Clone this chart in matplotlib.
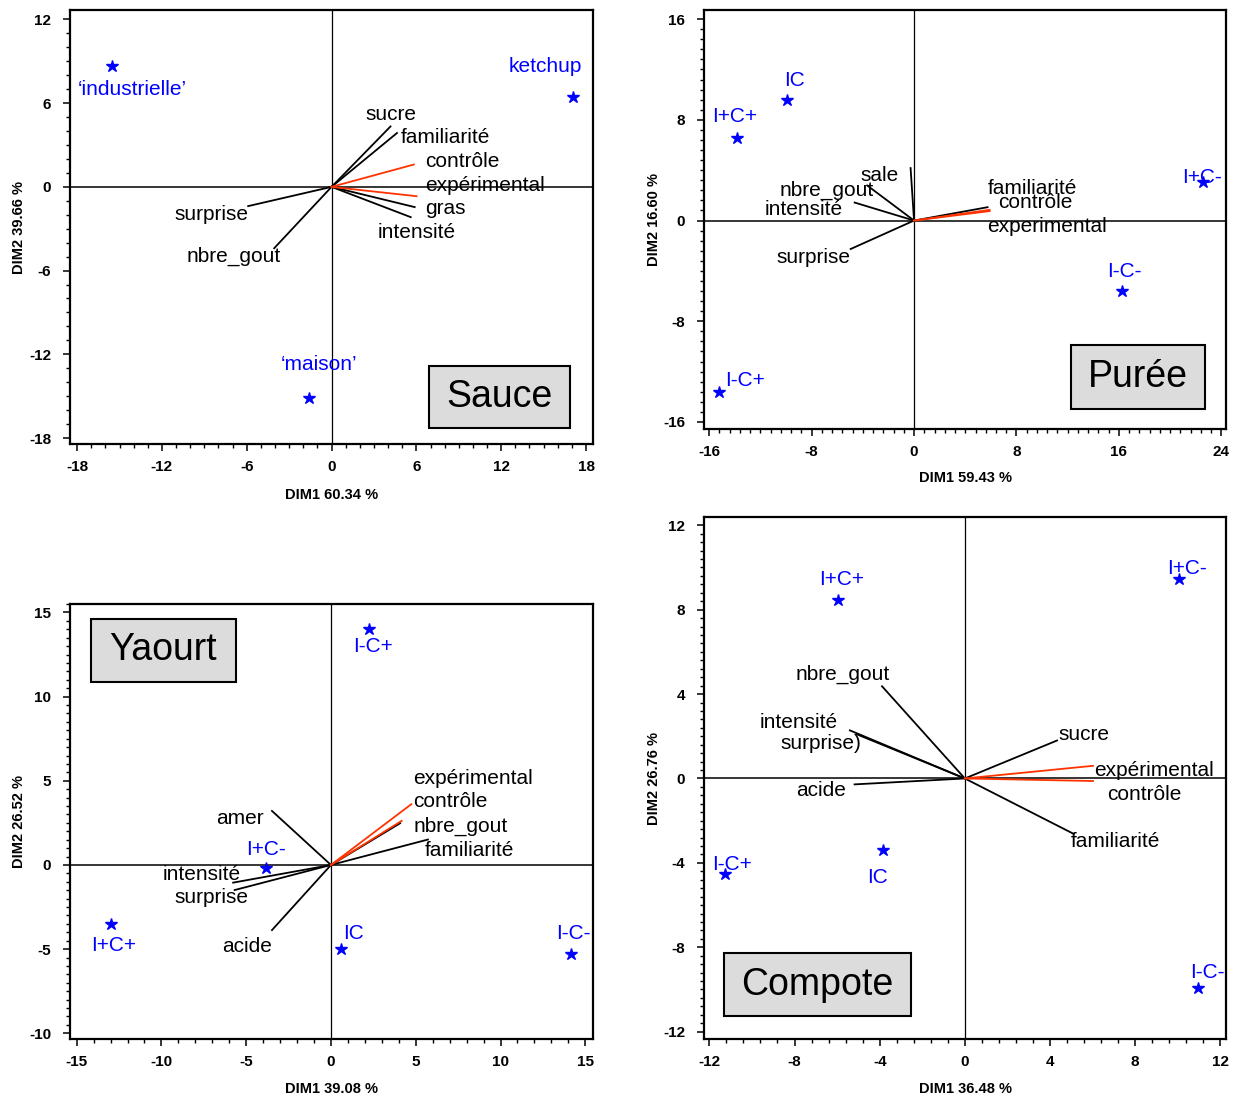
import numpy as np
import matplotlib.pyplot as plt
from matplotlib.patches import Rectangle
from matplotlib.ticker import MultipleLocator

plt.rcParams['font.family'] = ['Liberation Sans', 'DejaVu Sans']
plt.rcParams['axes.unicode_minus'] = False

BLUE = '#0000ff'
RED = '#ff3300'
RED_VARS = ('contrôle', 'expérimental', 'experimental')

# ---------------- Sauce
sauce_prod = ['‘industrielle’', 'ketchup', '‘maison’']
sauce_px = [-15.56, 17.05, -1.63]
sauce_py = [8.67, 6.43, -15.12]
sauce_vars = ['sucre', 'familiarité', 'contrôle', 'expérimental', 'gras',
              'intensité', 'surprise', 'nbre_gout']
sauce_vx = [4.17, 4.63, 5.82, 6.01, 5.88, 5.60, -5.90, -4.06]
sauce_vy = [4.33, 3.86, 1.60, -0.67, -1.45, -2.17, -1.38, -4.40]

# ---------------- Puree
puree_prod = ['IC', 'I+C+', 'I+C-', 'I-C-', 'I-C+']
puree_px = [-9.89, -13.80, 22.53, 16.27, -15.24]
puree_py = [9.61, 6.56, 3.03, -5.60, -13.62]
puree_vars = ['sale', 'nbre_gout', 'intensité', 'surprise', 'familiarité',
              'contrôle', 'experimental']
puree_vx = [-0.27, -3.66, -4.64, -4.95, 5.74, 5.90, 5.90]
puree_vy = [4.17, 2.79, 1.43, -2.26, 1.06, 0.85, 0.75]

# ---------------- Yaourt
yaourt_prod = ['I-C+', 'I+C-', 'I+C+', 'IC', 'I-C-']
yaourt_px = [2.24, -3.85, -12.98, 0.57, 14.15]
yaourt_py = [14.02, -0.16, -3.49, -4.98, -5.27]
yaourt_vars = ['amer', 'intensité', 'surprise', 'acide', 'expérimental',
               'contrôle', 'nbre_gout', 'familiarité']
yaourt_vx = [-3.48, -5.77, -5.68, -3.48, 4.74, 4.17, 4.08, 5.72]
yaourt_vy = [3.21, -1.05, -1.49, -3.87, 3.61, 2.62, 2.48, 1.51]

# ---------------- Compote
compote_prod = ['I+C+', 'I+C-', 'I-C+', 'IC', 'I-C-']
compote_px = [-5.95, 10.06, -11.27, -3.84, 10.94]
compote_py = [8.47, 9.44, -4.52, -3.41, -9.92]
compote_vars = ['nbre_gout', 'intensité', 'surprise)', 'acide', 'sucre',
                'expérimental', 'contrôle', 'familiarité']
compote_vx = [-3.89, -5.40, -5.09, -5.18, 4.33, 6.02, 6.02, 5.10]
compote_vy = [4.37, 2.28, 2.10, -0.28, 1.80, 0.60, -0.12, -2.62]

# label placement: (x, y, ha)
sauce_plab = [(-14.1, 6.95, 'center'), (15.1, 8.6, 'center'), (-0.9, -12.7, 'center')]
sauce_vlab = [(4.2, 5.2, 'center'), (4.9, 3.55, 'left'), (6.65, 1.83, 'left'),
              (6.65, 0.1, 'left'), (6.65, -1.55, 'left'), (3.25, -3.24, 'left'),
              (-5.85, -1.98, 'right'), (-3.6, -5.0, 'right')]
puree_plab = [(-9.37, 11.13, 'center'), (-14.05, 8.28, 'center'), (22.5, 3.45, 'center'),
              (16.4, -4.06, 'center'), (-14.78, -12.69, 'left')]
puree_vlab = [(-2.72, 3.56, 'center'), (-6.84, 2.36, 'center'), (-8.61, 0.85, 'center'),
              (-7.85, -2.92, 'center'), (5.74, 2.58, 'left'), (6.6, 1.43, 'left'),
              (5.74, -0.5, 'left')]
yaourt_plab = [(2.47, 12.97, 'center'), (-3.82, 0.93, 'center'), (-12.82, -4.76, 'center'),
               (0.69, -4.08, 'left'), (14.3, -4.08, 'center')]
yaourt_vlab = [(-5.38, 2.76, 'center'), (-7.63, -0.56, 'center'), (-7.03, -1.94, 'center'),
               (-4.97, -4.82, 'center'), (4.85, 5.15, 'left'), (4.85, 3.75, 'left'),
               (4.85, 2.32, 'left'), (5.56, 0.87, 'left')]
compote_plab = [(-5.77, 9.44, 'center'), (10.43, 9.97, 'center'), (-10.93, -4.08, 'center'),
                (-4.08, -4.67, 'center'), (11.4, -9.21, 'center')]
compote_vlab = [(-5.73, 4.93, 'center'), (-7.79, 2.67, 'center'), (-6.74, 1.66, 'center'),
                (-6.74, -0.55, 'center'), (4.41, 2.1, 'left'), (6.08, 0.39, 'left'),
                (6.67, -0.76, 'left'), (4.98, -2.97, 'left')]


def draw_panel(ax, title, box, prod, px, py, plab, vars_, vx, vy, vlab,
               xlim, ylim, xmaj, xmin, ymaj, ymin, xlabel, ylabel, lx, ly):
    ax.axhline(0, color='black', lw=1.1, zorder=1)
    ax.axvline(0, color='black', lw=0.9, zorder=1)

    for name, x, y, (tx, ty, ha) in zip(vars_, vx, vy, vlab):
        col = RED if name in RED_VARS else 'black'
        ax.plot([0, x], [0, y], color=col, lw=1.3, zorder=3 if col == RED else 2)
        ax.text(tx, ty, name, ha=ha, va='center', fontsize=15, zorder=4)

    ax.plot(px, py, ls='none', marker='*', ms=9, color=BLUE, zorder=5)
    for name, (tx, ty, ha) in zip(prod, plab):
        ax.text(tx, ty, name, ha=ha, va='center', fontsize=15, color=BLUE, zorder=5)

    x0, x1, y0, y1 = box
    ax.add_patch(Rectangle((x0, y1), x1 - x0, y0 - y1, facecolor='#dcdcdc',
                           edgecolor='black', lw=1.5, zorder=6))
    ax.text((x0 + x1) / 2, (y0 + y1) / 2, title, ha='center', va='center',
            fontsize=27, zorder=7)

    ax.set_xlim(*xlim)
    ax.set_ylim(*ylim)
    ax.xaxis.set_major_locator(MultipleLocator(xmaj))
    ax.xaxis.set_minor_locator(MultipleLocator(xmin))
    ax.yaxis.set_major_locator(MultipleLocator(ymaj))
    ax.yaxis.set_minor_locator(MultipleLocator(ymin))
    ax.tick_params(which='major', direction='out', length=5, width=1.1,
                   labelsize=11)
    ax.tick_params(axis='x', which='major', pad=6.5)
    ax.tick_params(axis='y', which='major', pad=8.5)
    ax.tick_params(which='minor', direction='out', length=3, width=1)
    for lab in ax.get_xticklabels() + ax.get_yticklabels():
        lab.set_fontweight('bold')
    for sp in ax.spines.values():
        sp.set_linewidth(1.6)

    ax.set_xlabel(xlabel, fontsize=10.5, fontweight='bold')
    ax.set_ylabel(ylabel, fontsize=10.5, fontweight='bold')
    ax.xaxis.set_label_coords(0.5, lx)
    ax.yaxis.set_label_coords(ly, 0.5)


fig = plt.figure(figsize=(12.33, 10.95), dpi=100)

ax1 = fig.add_axes([0.0568, 0.5945, 0.4242, 0.3963])
draw_panel(ax1, 'Sauce', (6.92, 16.86, -12.81, -17.29),
           sauce_prod, sauce_px, sauce_py, sauce_plab,
           sauce_vars, sauce_vx, sauce_vy, sauce_vlab,
           (-18.5, 18.5), (-18.43, 12.67), 6, 1, 6, 1,
           'DIM1 60.34 %', 'DIM2 39.66 %', -0.101, -0.084)

ax2 = fig.add_axes([0.571, 0.6082, 0.4234, 0.3826])
draw_panel(ax2, 'Purée', (12.24, 22.75, -9.9, -14.95),
           puree_prod, puree_px, puree_py, puree_plab,
           puree_vars, puree_vx, puree_vy, puree_vlab,
           (-16.4, 24.37), (-16.56, 16.72), 8, 0.8, 8, 0.8,
           'DIM1 59.43 %', 'DIM2 16.60 %', -0.100, -0.082)

ax3 = fig.add_axes([0.0568, 0.0511, 0.4242, 0.3973])
draw_panel(ax3, 'Yaourt', (-14.15, -5.63, 14.61, 10.88),
           yaourt_prod, yaourt_px, yaourt_py, yaourt_plab,
           yaourt_vars, yaourt_vx, yaourt_vy, yaourt_vlab,
           (-15.39, 15.46), (-10.34, 15.5), 5, 1, 5, 0.5,
           'DIM1 39.08 %', 'DIM2 26.52 %', -0.099, -0.084)

ax4 = fig.add_axes([0.571, 0.0511, 0.4234, 0.4767])
draw_panel(ax4, 'Compote', (-11.33, -2.55, -8.29, -11.24),
           compote_prod, compote_px, compote_py, compote_plab,
           compote_vars, compote_vx, compote_vy, compote_vlab,
           (-12.25, 12.27), (-12.35, 12.39), 4, 0.8, 4, 0.4,
           'DIM1 36.48 %', 'DIM2 26.76 %', -0.082, -0.082)

fig.savefig('out.png', dpi=100)
